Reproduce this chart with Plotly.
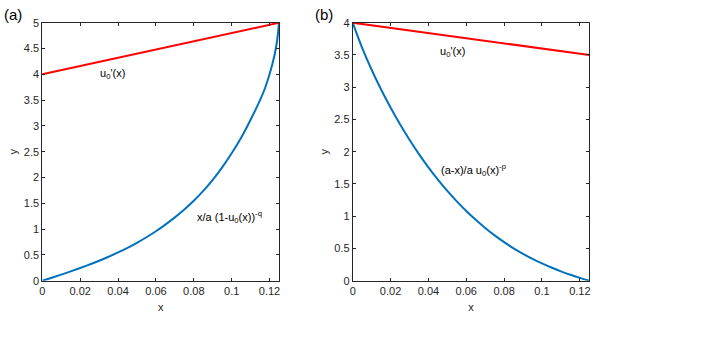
import plotly.graph_objects as go

# Panel (a)
xa = [0, 0.005, 0.01, 0.015, 0.02, 0.025, 0.03, 0.035, 0.04, 0.045, 0.05, 0.055, 0.06,
      0.065, 0.07, 0.075, 0.08, 0.085, 0.09, 0.095, 0.1, 0.105, 0.11, 0.115, 0.1175, 0.12, 0.1225, 0.124, 0.125]
ya_blue = [0, 0.057, 0.117, 0.180, 0.246, 0.315, 0.387, 0.464, 0.547, 0.637, 0.735, 0.842, 0.959,
           1.087, 1.227, 1.380, 1.548, 1.740, 1.955, 2.197, 2.469, 2.77, 3.12, 3.50, 3.72, 4.00, 4.35, 4.65, 5.0]
xa_red = [0, 0.125]
ya_red = [4, 5]

# Panel (b)
xb = [0, 0.005, 0.01, 0.015, 0.02, 0.025, 0.03, 0.035, 0.04, 0.045, 0.05, 0.055, 0.06,
      0.065, 0.07, 0.075, 0.08, 0.085, 0.09, 0.095, 0.1, 0.105, 0.11, 0.115, 0.12, 0.125]
yb_blue = [4, 3.61, 3.27, 2.965, 2.685, 2.425, 2.185, 1.963, 1.758, 1.568, 1.392, 1.230, 1.081,
           0.944, 0.818, 0.703, 0.598, 0.502, 0.416, 0.337, 0.268, 0.204, 0.145, 0.092, 0.044, 0]
xb_red = [0, 0.125]
yb_red = [4, 3.5]

xticks = [0, 0.02, 0.04, 0.06, 0.08, 0.1, 0.12]
xticklabels = ["0", "0.02", "0.04", "0.06", "0.08", "0.1", "0.12"]
ya_ticks = [0, 0.5, 1, 1.5, 2, 2.5, 3, 3.5, 4, 4.5, 5]
yb_ticks = [0, 0.5, 1, 1.5, 2, 2.5, 3, 3.5, 4]

BLUE = "#0072BD"
RED = "#FF0000"
AX = "#262626"
FONT = "Liberation Sans, Arial, sans-serif"

fig = go.Figure()
fig.add_trace(go.Scatter(x=xa, y=ya_blue, mode="lines", line=dict(color=BLUE, width=2, shape="spline", smoothing=1),
                         xaxis="x", yaxis="y", showlegend=False))
fig.add_trace(go.Scatter(x=xa_red, y=ya_red, mode="lines", line=dict(color=RED, width=2),
                         xaxis="x", yaxis="y", showlegend=False))
fig.add_trace(go.Scatter(x=xb, y=yb_blue, mode="lines", line=dict(color=BLUE, width=2, shape="spline", smoothing=1),
                         xaxis="x2", yaxis="y2", showlegend=False))
fig.add_trace(go.Scatter(x=xb_red, y=yb_red, mode="lines", line=dict(color=RED, width=2),
                         xaxis="x2", yaxis="y2", showlegend=False))

def xax(domain, anchor):
    return dict(domain=domain, anchor=anchor, range=[0, 0.125], tickvals=xticks, ticktext=xticklabels,
                ticks="inside", ticklen=3, tickcolor=AX, showline=True, linecolor=AX, linewidth=1,
                mirror="ticks", showgrid=False, zeroline=False, automargin=False,
                tickfont=dict(family=FONT, size=11, color=AX),
                title=dict(text="x", font=dict(family=FONT, size=11, color=AX), standoff=7))

def yax(domain, anchor, rng, ticks):
    return dict(domain=domain, anchor=anchor, range=rng, tickvals=ticks,
                ticks="inside", ticklen=3, tickcolor=AX, showline=True, linecolor=AX, linewidth=1,
                mirror="ticks", showgrid=False, zeroline=False, automargin=False,
                tickfont=dict(family=FONT, size=11, color=AX),
                title=dict(text="y", font=dict(family=FONT, size=11, color=AX), standoff=3))

ydom = [1 - 280.7 / 344, 1 - 22.7 / 344]
fig.update_layout(
    width=727, height=344,
    margin=dict(l=0, r=0, t=0, b=0, autoexpand=False),
    paper_bgcolor="white", plot_bgcolor="white",
    font=dict(family=FONT, color=AX),
    xaxis=xax([42.3 / 727, 279 / 727], "y"),
    yaxis=yax(ydom, "x", [0, 5], ya_ticks),
    xaxis2=xax([352.7 / 727, 589.3 / 727], "y2"),
    yaxis2=yax(ydom, "x2", [0, 4], yb_ticks),
)

ann_font = dict(family=FONT, size=11, color="black")
annotations = [
    dict(x=0.0294, y=4.0, xref="x", yref="y", text="u<sub>0</sub>'(x)", showarrow=False,
         xanchor="left", yanchor="middle", font=ann_font),
    dict(x=0.0806, y=1.24, xref="x", yref="y", text="x/a (1-u<sub>0</sub>(x))<sup>-q</sup>", showarrow=False,
         xanchor="left", yanchor="middle", font=ann_font),
    dict(x=0.0452, y=3.55, xref="x2", yref="y2", text="u<sub>0</sub>'(x)", showarrow=False,
         xanchor="left", yanchor="middle", font=ann_font),
    dict(x=0.0457, y=1.72, xref="x2", yref="y2", text="(a-x)/a u<sub>0</sub>(x)<sup>-p</sup>", showarrow=False,
         xanchor="left", yanchor="middle", font=ann_font),
    dict(x=2 / 727, y=1 - 15 / 344, xref="paper", yref="paper", text="(a)", showarrow=False,
         xanchor="left", yanchor="middle", font=dict(family=FONT, size=15, color="black")),
    dict(x=313 / 727, y=1 - 15 / 344, xref="paper", yref="paper", text="(b)", showarrow=False,
         xanchor="left", yanchor="middle", font=dict(family=FONT, size=15, color="black")),
]
fig.update_layout(annotations=annotations)

fig.write_html("out.html")
